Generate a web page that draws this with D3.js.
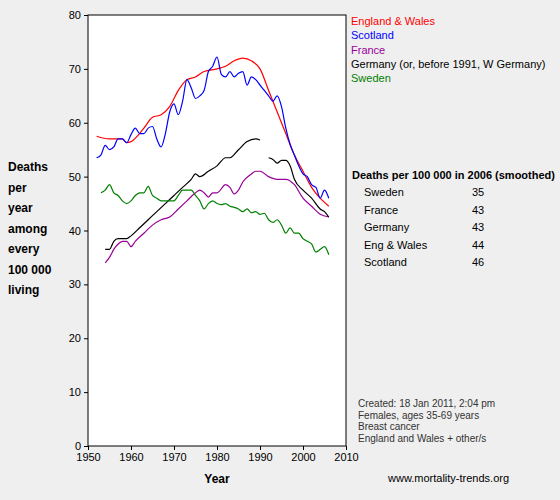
<!DOCTYPE html><html><head><script src="https://cdn.jsdelivr.net/npm/d3@7"></script>
<style>body{margin:0;background:#efefef}svg{font-family:"Liberation Sans",Arial,sans-serif;font-size:11px}</style></head><body>
<script>
const years=d3.range(1950,2007);
const ewYears=[1952,1955,1958,1959,1960,1962,1963,1965,1967,1969,1971,1973,1975,1977,1980,1982,1984,1986,1988,1990,1992,1994,1996,1998,2000,2002,2004,2006];
const ewVals=[57.5,57,57,56.3,56.5,58,59,61,61.5,63,66,68,68.5,69.5,70,70.5,71.5,72,71.5,70,66,62,58,54,51,48,46,44.5];
const scYears=d3.range(1952,2007);
const scVals=[53.5,54,55.8,55,55.5,57,57,56.3,57.8,59,58,58,59,59.3,57,55.5,58,62,63.5,61.5,64,68,66.5,64.5,65,66,69.5,70.5,72.2,69,68.5,69.5,68.5,69.2,69.5,67,68.5,68,67,66,65,64,65,63,59,56,54,52,50.5,50,48.5,48,46,47.5,46];
const deYears=[1954,1955,1956,1957,1958,1959,1960,1962,1964,1966,1968,1970,1972,1974,1975,1976,1978,1980,1982,1983,1985,1987,1989,1990,1991,1992,1993,1994,1995,1996,1997,1998,2000,2002,2004,2005,2006];
const deVals=[36.5,36.5,38,38.5,38.5,38.5,39,40.5,42,43.5,45,46.5,48,49.5,50.5,50,51,52,53.5,53.5,55,56.5,57,56.8,null,53.5,53.2,52.5,53,53,52,49.5,47.5,46,44,43.5,42.5];
const frYears=[1954,1955,1956,1957,1958,1959,1960,1961,1963,1965,1967,1969,1971,1973,1975,1976,1977,1978,1979,1980,1982,1983,1984,1985,1986,1988,1989,1990,1992,1994,1996,1998,2000,2002,2004,2006];
const frVals=[34,35,36.5,37.5,38,38,37,38,39.5,41,42,42.5,44,45.5,47,47.5,47,46.2,47,47,48.5,48,46.8,47.5,49,50.5,51,51,50,49.5,49.5,48.5,46,44.5,43,42.5];
const seYears=d3.range(1953,2007);
const seVals=[47,47.5,48.5,47,46.5,45.5,45,45.5,46.5,47,47,48.2,46.5,46,45.5,45.5,45.5,45.5,46.5,47.5,47.5,47.5,46.5,45.5,44,45,45.5,45,44.8,45,44.5,44.3,44,43.5,44,43.3,43.5,43,43.2,42,41.5,42,41,39.5,40.5,39.5,39.5,38.5,38,37.5,36,36.5,37,35.5];
const series=[
 {name:"England & Wales",color:"#ff0000",x:ewYears,y:ewVals},
 {name:"Scotland",color:"#0000ff",x:scYears,y:scVals},
 {name:"France",color:"#990099",x:frYears,y:frVals},
 {name:"Germany (or, before 1991, W Germany)",color:"#000000",x:deYears,y:deVals},
 {name:"Sweden",color:"#008000",x:seYears,y:seVals}];
const tableRows=["Sweden","France","Germany","Eng & Wales","Scotland"];
const tableVals=["35","43","43","44","46"];
const xTicks=[1950,1960,1970,1980,1990,2000,2010];
const yTicks=[0,10,20,30,40,50,60,70,80];
const notes=["Created: 18 Jan 2011, 2:04 pm","Females, ages 35-69 years","Breast cancer","England and Wales + other/s"];
const leftLabel=["Deaths","per","year","among","every","100 000","living"];

const svg=d3.select("body").append("svg").attr("width",560).attr("height",500);
const x=d3.scaleLinear().domain([1950,2010]).range([88,346]);
const y=d3.scaleLinear().domain([0,80]).range([446,15]);
svg.append("rect").attr("x",88).attr("y",15).attr("width",258).attr("height",431).attr("fill","#fff").attr("stroke","#000");
svg.append("g").attr("transform","translate(0,446)").call(d3.axisBottom(x).tickValues(xTicks).tickFormat(d3.format("d")).tickSize(4)).call(g=>g.select(".domain").remove()).selectAll("text").attr("font-size",11).attr("font-family","Liberation Sans");
svg.append("g").attr("transform","translate(88,0)").call(d3.axisLeft(y).tickValues(yTicks).tickSize(4)).call(g=>g.select(".domain").remove()).selectAll("text").attr("font-size",11).attr("font-family","Liberation Sans");
const line=d3.line().defined(d=>d[1]!=null).x(d=>x(d[0])).y(d=>y(d[1])).curve(d3.curveMonotoneX);
series.forEach(s=>{
 svg.append("path").attr("d",line(s.x.map((v,i)=>[v,s.y[i]]))).attr("fill","none").attr("stroke",s.color).attr("stroke-width",1.2);
});
series.forEach((s,i)=>svg.append("text").attr("x",351).attr("y",25+i*14.3).attr("fill",s.color).text(s.name));
leftLabel.forEach((t,i)=>svg.append("text").attr("x",8).attr("y",171+i*20.5).attr("font-weight","bold").attr("font-size",12).text(t));
svg.append("text").attr("x",217).attr("y",483).attr("text-anchor","middle").attr("font-weight","bold").attr("font-size",12).text("Year");
svg.append("text").attr("x",352).attr("y",179).attr("font-weight","bold").text("Deaths per 100 000 in 2006 (smoothed)");
tableRows.forEach((t,i)=>{svg.append("text").attr("x",364).attr("y",196+i*17.5).text(t);
 svg.append("text").attr("x",478).attr("y",196+i*17.5).attr("text-anchor","middle").text(tableVals[i]);});
notes.forEach((t,i)=>svg.append("text").attr("x",358).attr("y",407+i*11.5).attr("font-size",10).attr("fill","#333").text(t));
svg.append("text").attr("x",388).attr("y",482).text("www.mortality-trends.org");
</script></body></html>
